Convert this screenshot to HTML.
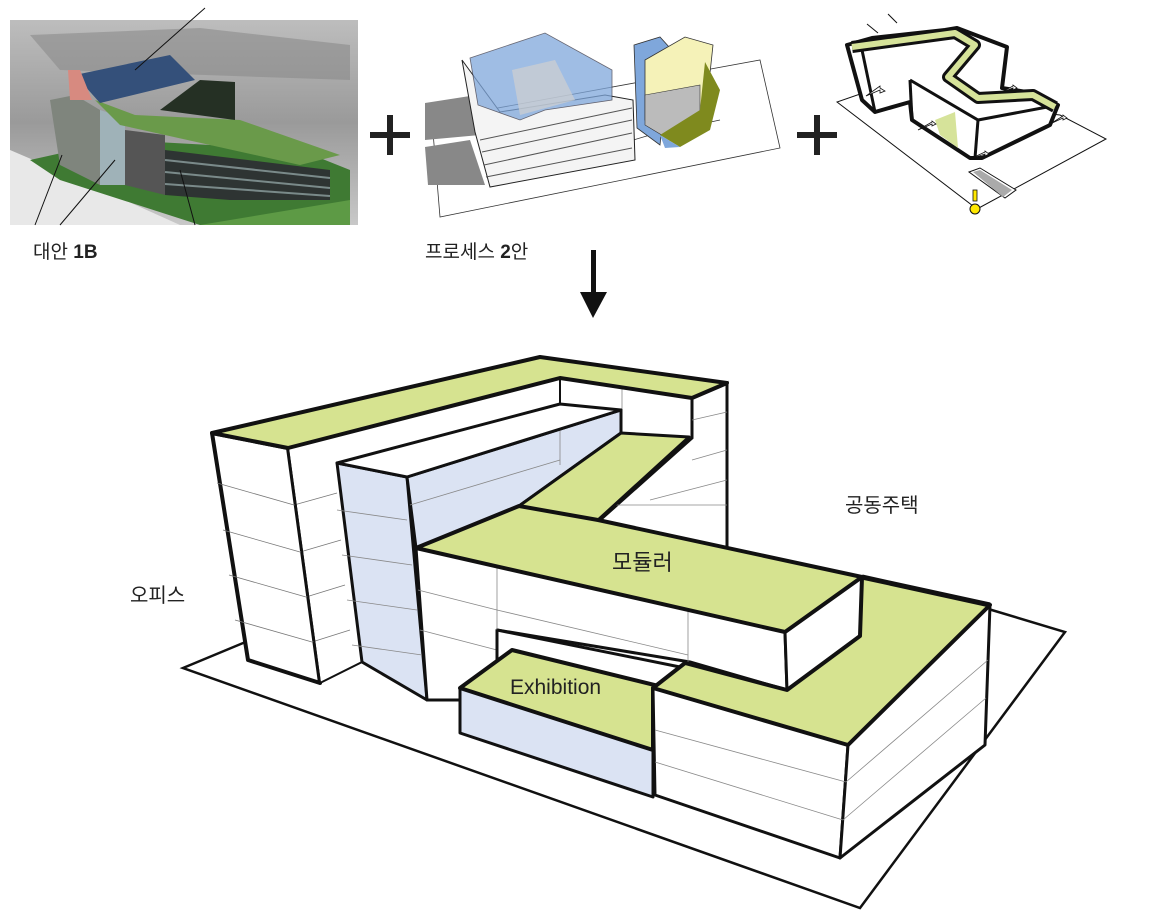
<!DOCTYPE html>
<html><head><meta charset="utf-8"><style>
html,body{margin:0;padding:0;background:#fff;}
svg{display:block;}
text{font-family:"Liberation Sans","Noto Sans CJK KR",sans-serif;}
</style></head><body>
<svg width="1156" height="924" viewBox="0 0 1156 924" xmlns="http://www.w3.org/2000/svg">
<defs>
<linearGradient id="bg1" x1="0" y1="0" x2="0" y2="1">
<stop offset="0" stop-color="#bdbdbd"/><stop offset="0.5" stop-color="#9a9a9a"/><stop offset="1" stop-color="#c8c8c8"/>
</linearGradient>
</defs>

<!-- Image 1: render -->
<rect x="10" y="20" width="348" height="205" fill="url(#bg1)"/>
<polygon points="30,35 200,28 350,45 350,80 60,70" fill="#8a8a8a" opacity="0.6"/>
<polygon points="10,150 80,180 180,225 10,225" fill="#e8e8e8"/>
<polygon points="30,160 120,140 300,150 350,170 350,225 200,225 60,180" fill="#3f7a33"/>
<polygon points="200,225 350,200 350,225" fill="#5d9a45"/>
<polygon points="50,100 75,95 100,110 100,185 60,165" fill="#7f857d"/>
<polygon points="100,110 125,118 125,185 100,185" fill="#9fb2b8"/>
<polygon points="125,130 165,135 165,195 125,185" fill="#555"/>
<polygon points="165,150 330,170 330,200 230,200 165,195" fill="#2e3433"/>
<g stroke="#7a8a8a" stroke-width="2"><line x1="165" y1="160" x2="330" y2="178"/><line x1="165" y1="172" x2="330" y2="188"/><line x1="165" y1="184" x2="330" y2="196"/></g>
<polygon points="95,100 135,115 240,120 340,155 300,165 120,125" fill="#6a9a4a"/>
<polygon points="160,110 200,80 235,82 235,120" fill="#253024"/>
<polygon points="75,75 170,55 195,80 100,103" fill="#34507a"/>
<polygon points="68,70 80,70 92,100 70,100" fill="#d78a80"/>
<line x1="205" y1="8" x2="135" y2="70" stroke="#111" stroke-width="1"/>
<line x1="62" y1="155" x2="35" y2="225" stroke="#111" stroke-width="1"/>
<line x1="115" y1="160" x2="60" y2="225" stroke="#111" stroke-width="1"/>
<line x1="180" y1="170" x2="195" y2="225" stroke="#111" stroke-width="1"/>
<text x="33" y="258" font-size="19" fill="#222">대안 <tspan font-weight="bold">1B</tspan></text>

<!-- plus signs -->
<g fill="#222"><rect x="370" y="132" width="40" height="6"/><rect x="387" y="115" width="6" height="40"/>
<rect x="797" y="132" width="40" height="6"/><rect x="814" y="115" width="6" height="40"/></g>

<!-- Image 2: sketch -->
<g stroke="#333" stroke-width="0.8" fill="none">
<polygon points="432,120 440,217 780,148 760,60"/>
<polyline points="600,150 650,135 720,120"/>
</g>
<polygon points="425,103 470,96 480,135 425,140" fill="#888"/>
<polygon points="425,147 470,140 485,185 428,185" fill="#888"/>
<polygon points="462,60 475,132 490,187 635,160 633,100 605,95 500,112" fill="#f4f4f4" stroke="#222" stroke-width="1"/>
<g stroke="#555" stroke-width="1"><line x1="480" y1="140" x2="632" y2="108"/><line x1="482" y1="152" x2="632" y2="120"/><line x1="484" y1="165" x2="632" y2="133"/><line x1="486" y1="177" x2="632" y2="148"/></g>
<polygon points="470,58 545,33 612,70 612,100 545,110 520,120 478,105" fill="#7fa7db" opacity="0.75" stroke="#334" stroke-width="0.8"/>
<polygon points="512,70 555,60 575,100 520,115" fill="#d0d0d0" opacity="0.7"/>
<polygon points="634,45 660,37 670,48 660,145 637,128" fill="#7fa7db" stroke="#333" stroke-width="0.8"/>
<polygon points="645,60 685,37 713,45 705,120 670,140 645,120" fill="#f5f2b8" stroke="#333" stroke-width="0.8"/>
<polygon points="645,95 700,85 700,120 670,140 645,125" fill="#bbb" stroke="#333" stroke-width="0.6"/>
<polygon points="705,62 720,90 710,130 680,147 660,135 700,110" fill="#7f8a1e"/>
<polygon points="660,135 680,147 665,148" fill="#7fa7db"/>

<!-- Image 3 -->
<polygon points="837,102 977,209 1106,139 1060,115 863,93" fill="#fff" stroke="#111" stroke-width="1"/>
<polygon points="969,172 980,168 1016,190 1005,198" fill="#fff" stroke="#111" stroke-width="1"/>
<polygon points="973,172 980,170 1012,190 1003,197" fill="#aaa"/>
<polygon points="847,45 872,38 945,30 957,28 1007,47 1002,88 1033,93 1058,105 1050,125 982,158 970,158 912,120 910,102 875,112 862,100" fill="#fff" stroke="#111" stroke-width="4" stroke-linejoin="round"/>
<g stroke="#111" stroke-width="3" fill="none">
<line x1="910" y1="80" x2="912" y2="120"/><line x1="978" y1="120" x2="975" y2="158"/>
<polyline points="910,80 978,120 1058,105"/>
<line x1="862" y1="50" x2="875" y2="112"/>
</g>
<polygon points="935,120 955,112 958,148 940,135" fill="#d6e39a"/>
<polyline points="852,47 955,33 975,45 948,77 978,98 1033,95 1055,107" fill="none" stroke="#111" stroke-width="12" stroke-linejoin="round"/>
<polyline points="852,47 955,33 975,45 948,77 978,98 1033,95 1055,107" fill="none" stroke="#d6e39a" stroke-width="6" stroke-linejoin="round"/>
<g stroke="#111" stroke-width="1" fill="none"><line x1="867" y1="24" x2="878" y2="33"/><line x1="888" y1="14" x2="897" y2="23"/></g>
<g fill="#fff" stroke="#111" stroke-width="0.8">
<polygon points="866,96 880,90 880,93 885,91 880,88 880,86"/>
<polygon points="918,130 932,124 932,126 936,124 932,121 932,122"/>
<polygon points="970,159 985,154 985,156 989,154 985,151 985,152"/>
<polygon points="1050,124 1063,118 1063,120 1067,118 1063,115 1063,116"/>
<polygon points="1000,93 1013,88 1013,90 1017,88 1013,85 1013,86"/>
</g>
<circle cx="975" cy="209" r="5" fill="#ffe800" stroke="#111" stroke-width="1"/>
<rect x="973" y="190" width="4" height="11" fill="#ffe800" stroke="#111" stroke-width="0.8"/>

<text x="425" y="258" font-size="19" fill="#222">프로세스 <tspan font-weight="bold">2</tspan>안</text>
<rect x="591" y="250" width="5" height="45" fill="#111"/>
<polygon points="580,292 607,292 593,318" fill="#111"/>

<!-- Main diagram -->
<polyline points="260,636 183,668 860,908 1065,632 985,608" fill="none" stroke="#111" stroke-width="2.5" stroke-linejoin="miter"/>

<polygon points="692,398 727,383 727,555 600,520 692,438" fill="#fff" stroke="#111" stroke-width="3"/>
<g stroke="#888" stroke-width="0.8"><line x1="560" y1="378" x2="560" y2="404"/><line x1="622" y1="386" x2="622" y2="410"/>
<line x1="692" y1="420" x2="727" y2="412"/><line x1="692" y1="460" x2="727" y2="450"/><line x1="650" y1="500" x2="727" y2="480"/><line x1="610" y1="505" x2="727" y2="505"/></g>

<polygon points="212,433 288,448 320,683 248,660" fill="#fff" stroke="#111" stroke-width="4" stroke-linejoin="round"/>
<polygon points="288,448 560,378 560,404 337,463 362,662 320,683" fill="#fff" stroke="#111" stroke-width="2"/>
<g stroke="#777" stroke-width="0.8">
<line x1="217" y1="483" x2="294" y2="505"/><line x1="223" y1="530" x2="300" y2="552"/><line x1="229" y1="575" x2="306" y2="597"/><line x1="235" y1="620" x2="312" y2="642"/>
<line x1="294" y1="505" x2="337" y2="493"/><line x1="300" y1="552" x2="341" y2="540"/><line x1="306" y1="597" x2="345" y2="585"/><line x1="312" y1="642" x2="350" y2="630"/>
</g>
<line x1="288" y1="448" x2="320" y2="683" stroke="#111" stroke-width="2"/>
<polygon points="212,433 540,357 727,383 692,398 560,378 288,448" fill="#d6e390" stroke="#111" stroke-width="4" stroke-linejoin="round"/>

<polygon points="337,463 407,477 427,700 362,662" fill="#dbe3f3" stroke="#111" stroke-width="3" stroke-linejoin="round"/>
<polygon points="407,477 621,410 621,433 519,506 416,548" fill="#dbe3f3" stroke="#111" stroke-width="3" stroke-linejoin="round"/>
<g stroke="#888" stroke-width="0.8"><line x1="410" y1="505" x2="560" y2="460"/><line x1="337" y1="510" x2="407" y2="520"/><line x1="342" y1="555" x2="412" y2="565"/><line x1="347" y1="600" x2="417" y2="610"/><line x1="352" y1="645" x2="422" y2="655"/><line x1="560" y1="404" x2="560" y2="465"/></g>
<polygon points="337,463 560,404 621,410 407,477" fill="#fff" stroke="#111" stroke-width="3" stroke-linejoin="round"/>

<polygon points="621,433 689,437 598,520 519,506" fill="#d6e390" stroke="#111" stroke-width="3" stroke-linejoin="round"/>

<polygon points="416,548 785,632 787,690 690,662 497,630 497,662 460,688 460,700 427,700" fill="#fff" stroke="#111" stroke-width="3" stroke-linejoin="round"/>
<g stroke="#888" stroke-width="0.8"><line x1="497" y1="568" x2="497" y2="630"/><line x1="688" y1="610" x2="688" y2="662"/><line x1="418" y1="590" x2="497" y2="610"/><line x1="420" y1="630" x2="497" y2="650"/><line x1="497" y1="610" x2="688" y2="655"/></g>
<polygon points="497,630 690,668 690,680 497,650" fill="#fff"/>
<line x1="497" y1="630" x2="685" y2="668" stroke="#111" stroke-width="3"/>
<line x1="497" y1="630" x2="497" y2="662" stroke="#111" stroke-width="3"/>
<polygon points="785,632 862,577 860,636 787,690" fill="#fff" stroke="#111" stroke-width="3" stroke-linejoin="round"/>
<polygon points="416,548 519,506 598,520 862,577 785,632" fill="#d6e390" stroke="#111" stroke-width="4" stroke-linejoin="round"/>

<polygon points="460,688 653,750 653,797 460,733" fill="#dbe3f3" stroke="#111" stroke-width="3" stroke-linejoin="round"/>
<polygon points="460,688 512,650 683,692 653,688 653,750" fill="#d6e390" stroke="#111" stroke-width="4" stroke-linejoin="round"/>

<polygon points="653,688 848,745 840,858 655,795" fill="#fff" stroke="#111" stroke-width="3" stroke-linejoin="round"/>
<polygon points="848,745 990,605 985,745 840,858" fill="#fff" stroke="#111" stroke-width="3" stroke-linejoin="round"/>
<g stroke="#888" stroke-width="0.8"><line x1="655" y1="730" x2="846" y2="782"/><line x1="655" y1="762" x2="843" y2="820"/><line x1="846" y1="782" x2="988" y2="660"/><line x1="843" y1="820" x2="986" y2="698"/></g>
<polygon points="653,688 685,663 787,690 860,636 862,577 990,605 848,745" fill="#d6e390" stroke="#111" stroke-width="4" stroke-linejoin="round"/>
<line x1="862" y1="577" x2="990" y2="605" stroke="#111" stroke-width="5"/>

<text x="612" y="570" font-size="22" fill="#222">모듈러</text>
<text x="510" y="694" font-size="21" fill="#222">Exhibition</text>
<text x="130" y="602" font-size="20" fill="#222">오피스</text>
<text x="845" y="512" font-size="20" fill="#222">공동주택</text>
</svg>
</body></html>
